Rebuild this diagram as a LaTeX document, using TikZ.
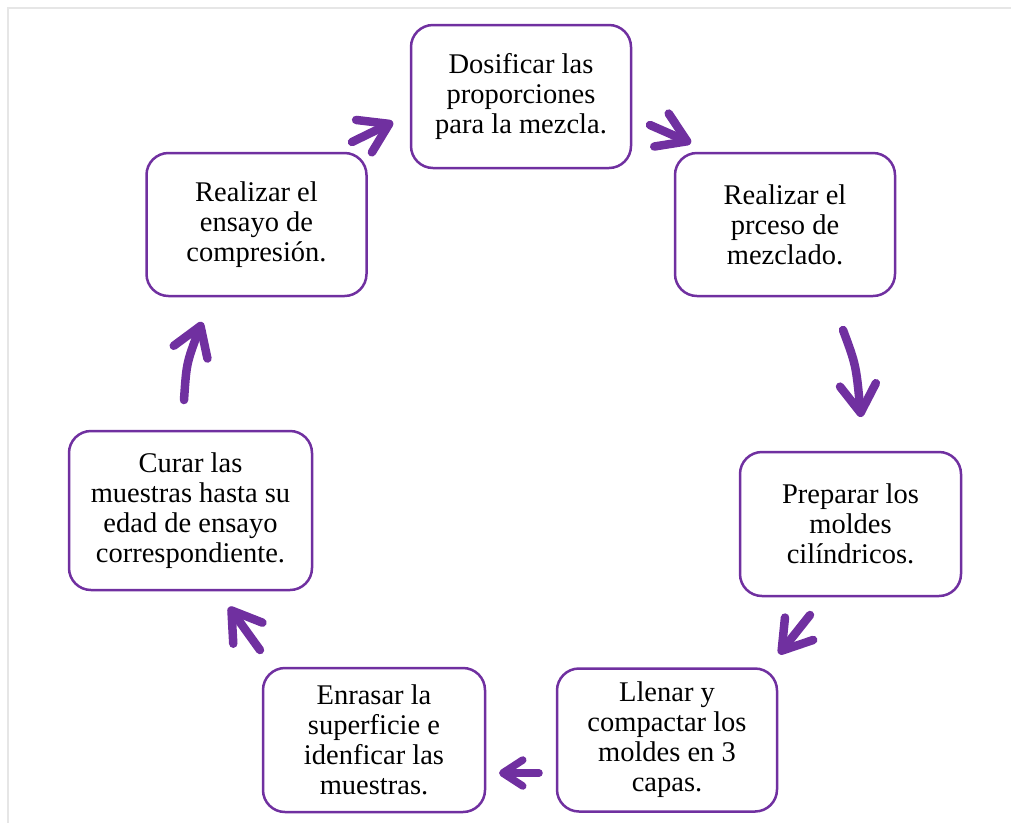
\documentclass[tikz,border=0pt]{standalone}
\usepackage{fontspec}
\setmainfont{Liberation Serif}
\usetikzlibrary{arrows.meta}
\definecolor{pur}{HTML}{7030A0}
\definecolor{frame}{HTML}{E6E6E6}
\tikzset{
  box/.style={draw=pur, line width=2.5pt, rounded corners=22pt, fill=white,
    minimum width=220pt, minimum height=143pt, align=center, inner sep=0pt,
    font=\fontsize{28.5}{30}\selectfont,
    execute at begin node={\rule{0pt}{31pt}}},
  arr/.style={draw=pur, line width=8.5pt, line cap=round,
    -{Straight Barb[length=28pt, width=36pt, round]}},
  arrsmall/.style={draw=pur, line width=7.5pt, line cap=round,
    -{Straight Barb[length=20pt, width=26pt, round]}}
}
\begin{document}
\begin{tikzpicture}[x=1pt,y=-1pt]
\useasboundingbox (0,0) rectangle (1011,823);
\draw[frame, line width=2.5pt] (8,823) -- (8,8) -- (1011,8);

\node[box] (n1) at (521,96.5) {Dosificar las\\proporciones\\para la mezcla.};
\node[box] (n2) at (785,224.5) {Realizar el\\prceso de\\mezclado.};
\node[box, minimum width=221pt, minimum height=144pt] (n3) at (850.5,524) {Preparar los\\moldes\\cilíndricos.};
\node[box] (n4) at (667,740) {Llenar y\\compactar los\\moldes en 3\\capas.};
\node[box, minimum width=222pt, minimum height=144pt] (n5) at (374,740) {Enrasar la\\superficie e\\idenficar las\\muestras.};
\node[box, minimum width=243pt, minimum height=159pt] (n6) at (190.5,510.5) {Curar las\\muestras hasta su\\edad de ensayo\\correspondiente.};
\node[box] (n7) at (256.5,224.5) {Realizar el\\ensayo de\\compresión.};

\coordinate (a1s) at (352,142);
\coordinate (a1e) at (393,122);
\coordinate (a2s) at (650,125);
\coordinate (a2e) at (691,143);
\coordinate (a3s) at (843,330);
\coordinate (a3c) at (856,365);
\coordinate (a3e) at (861,417);
\coordinate (a4s) at (810,615);
\coordinate (a4e) at (779,654);
\coordinate (a5s) at (539,773);
\coordinate (a5e) at (499,773);
\coordinate (a6s) at (260,650);
\coordinate (a6e) at (229,607);
\coordinate (a7s) at (184,400);
\coordinate (a7c) at (186.5,363);
\coordinate (a7e) at (202,322);

\draw[arr] (a1s) -- (a1e);
\draw[arr] (a2s) -- (a2e);
\draw[arr] (a3s) .. controls (a3c) .. (a3e);
\draw[arr] (a4s) -- (a4e);
\draw[arrsmall] (a5s) -- (a5e);
\draw[arr] (a6s) -- (a6e);
\draw[arr] (a7s) .. controls (a7c) .. (a7e);
\end{tikzpicture}
\end{document}
